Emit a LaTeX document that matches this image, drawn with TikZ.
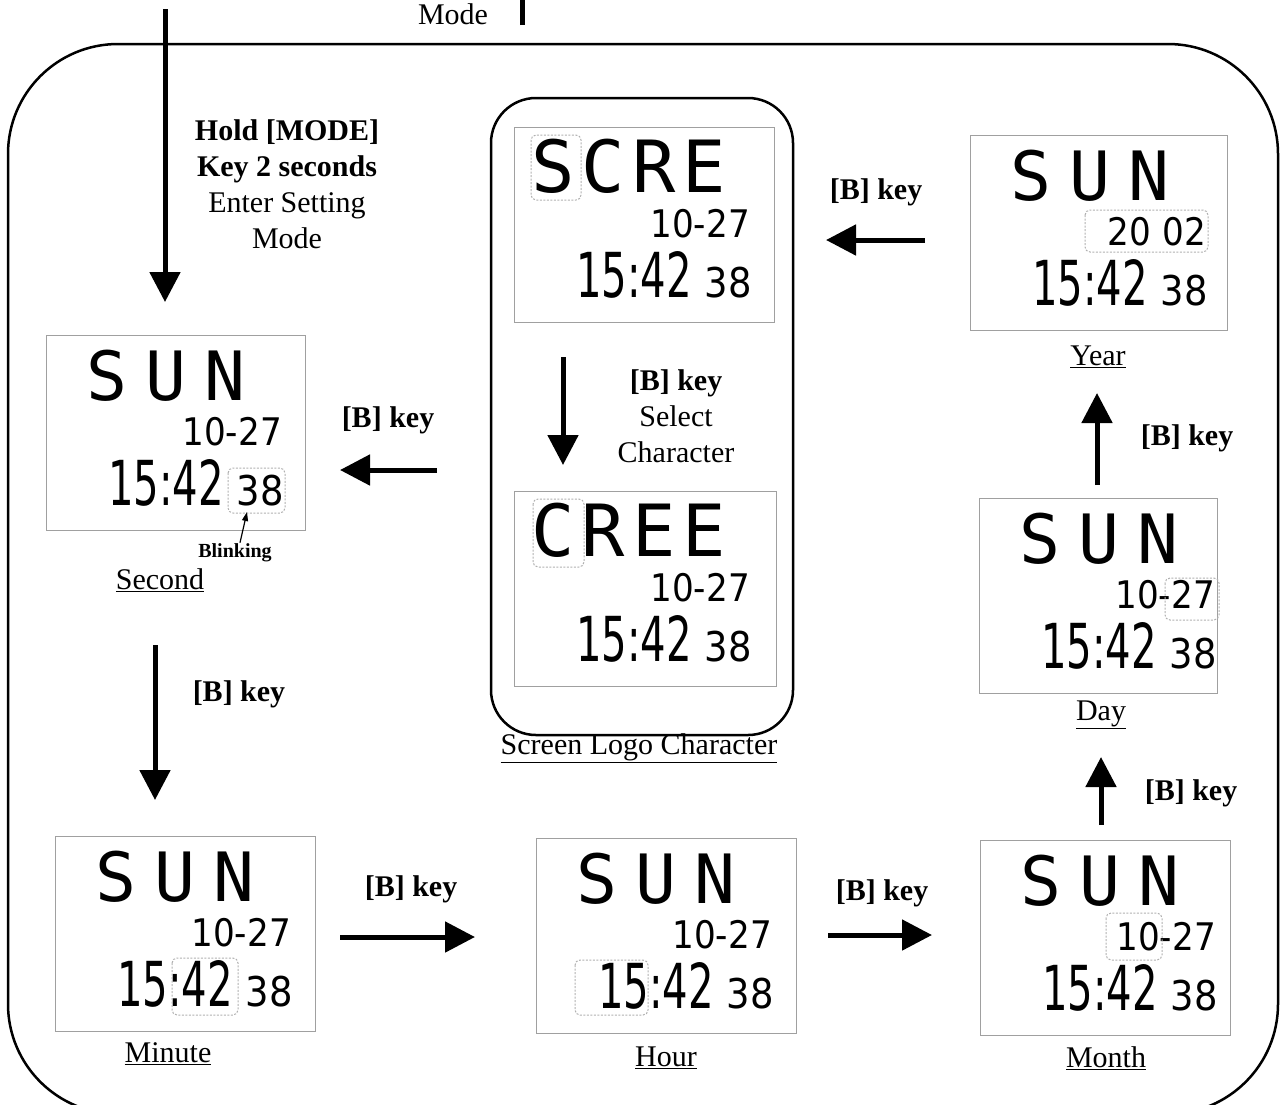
\documentclass[tikz,border=0pt]{standalone}
\usepackage{fontspec}
\setmainfont{Liberation Serif}
\newfontfamily\dotfont[LetterSpace=27]{DejaVu Sans Mono}
\newfontfamily\logofont[LetterSpace=10]{DejaVu Sans Mono}
\newfontfamily\segfont{DejaVu Sans Condensed}
\usepackage{graphicx}
\usetikzlibrary{positioning, arrows.meta, calc}
\definecolor{lcdgray}{HTML}{A0A0A0}
\definecolor{blinkgray}{HTML}{B0B0B0}

% one LCD screen: name, corner, width, word style, word, date
\newcommand{\lcdscreen}[6]{%
  \node[screen, minimum width=#3pt] (#1) at (#2) {};
  \begin{scope}[shift={(#1.north west)}]
    \node[#4] (#1w) at (40,65) {#5};
    \node[segsmall] (#1d) at (236,110) {#6};
    \node[segbig] (#1t) at (62,170) {\scalebox{0.72}[1]{15:42}};
    \node[segmid] (#1s) at (238,170) {38};
  \end{scope}}
\newcommand{\blinkbox}[3]{\draw[blink] ([shift={(#2)}]#1.north west) rectangle ([shift={(#3)}]#1.north west);}

\begin{document}
\begin{tikzpicture}[x=1pt, y=-1pt, every node/.style={align=center}]
    \tikzset{screen/.style={draw=lcdgray, line width=1.3pt, anchor=north west, minimum height=195pt, inner sep=0pt},
      dotword/.style={anchor=base west, inner sep=0pt, font=\dotfont\fontsize{68}{68}\selectfont},
      logoword/.style={dotword, xshift=-23pt, font=\logofont\fontsize{72}{72}\selectfont},
      segsmall/.style={anchor=base east, inner sep=0pt, font=\segfont\fontsize{38}{38}\selectfont},
      segbig/.style={anchor=base west, inner sep=0pt, font=\segfont\fontsize{62}{62}\selectfont},
      segmid/.style={anchor=base east, inner sep=0pt, font=\segfont\fontsize{41}{41}\selectfont},
      blink/.style={draw=blinkgray, line width=1pt, dash pattern=on 2pt off 1.5pt, rounded corners=5pt},
      txt/.style={font=\fontsize{30}{36}\selectfont},
      keytxt/.style={font=\fontsize{30}{36}\selectfont\bfseries},
      arrow/.style={-{Triangle[length=30pt,width=30pt]}, line width=5pt}}
    \useasboundingbox (0,0) rectangle (1281,1104);
    % frames
    \draw[line width=2.5pt, rounded corners=110pt] (8,44) rectangle (1278,1114);
    \draw[line width=2.5pt, rounded corners=45pt] (491,98) rectangle (793,735);
    % screens
    \lcdscreen{sec}{46,335}{259}{dotword}{SUN}{10-27}
    \lcdscreen{logo}{514,127}{260}{logoword}{SCRE}{10-27}
    \lcdscreen{cree}{514,491}{262}{logoword}{CREE}{10-27}
    \lcdscreen{year}{970,135}{257}{dotword}{SUN}{20 02}
    \lcdscreen{day}{979,498}{238}{dotword}{SUN}{10-27}
    \lcdscreen{month}{980,840}{250}{dotword}{SUN}{10-27}
    \lcdscreen{hour}{536,838}{260}{dotword}{SUN}{10-27}
    \lcdscreen{minute}{55,836}{260}{dotword}{SUN}{10-27}
    \blinkbox{sec}{182,133}{239,178}
    \blinkbox{logo}{17,8}{67,73}
    \blinkbox{cree}{19,8}{70,76}
    \blinkbox{year}{115,75}{238,117}
    \blinkbox{day}{186,80}{240,122}
    \blinkbox{month}{126,73}{182,120}
    \blinkbox{hour}{39,122}{112,177}
    \blinkbox{minute}{117,122}{183,179}
    % screen names
    \node[txt] (secname) at (160,580) {\underline{Second}};
    \node[txt] (logoname) at (639,748) {\underline{Screen Logo Character}};
    \node[txt] (yearname) at (1098,357) {\underline{Year}};
    \node[txt] (dayname) at (1101,715) {\underline{Day}};
    \node[txt] (monthname) at (1106,1058) {\underline{Month}};
    \node[txt] (hourname) at (666,1058) {\underline{Hour}};
    \node[txt] (minutename) at (168,1054) {\underline{Minute}};
    \node[inner sep=1pt, font=\fontsize{20}{20}\selectfont\bfseries] (blinklbl) at (235,553) {Blinking};
    \coordinate (blinkto) at (247,512);
    \draw[-{Triangle[length=9pt,width=6pt]}, line width=1.2pt] ([xshift=5pt]blinklbl.north) -- (blinkto);
    % key texts
    \node[txt] (holdtxt) at (287,184) {\textbf{Hold [MODE]}\\\textbf{Key 2 seconds}\\Enter Setting\\Mode};
    \node[txt] (modetop) at (453,24) [anchor=base] {Mode};
    \node[txt] (seltxt) at (676,416) {\textbf{[B] key}\\Select\\Character};
    \node[keytxt] (k1) at (388,420) {[B] key};
    \node[keytxt] (k2) at (876,192) {[B] key};
    \node[keytxt] (k3) at (1187,438) {[B] key};
    \node[keytxt] (k4) at (1191,793) {[B] key};
    \node[keytxt] (k5) at (882,893) {[B] key};
    \node[keytxt] (k6) at (411,889) {[B] key};
    \node[keytxt] (k7) at (239,694) {[B] key};
    % arrows
    \coordinate (inS) at (165,9);     \coordinate (inE) at (165,302);
    \coordinate (outS) at (522,25);   \coordinate (outE) at (522,-10);
    \coordinate (lsS) at (437,470);   \coordinate (lsE) at (340,470);
    \coordinate (lcS) at (563,357);   \coordinate (lcE) at (563,465);
    \coordinate (ylS) at (925,240);   \coordinate (ylE) at (826,240);
    \coordinate (dyS) at (1097,485);  \coordinate (dyE) at (1097,393);
    \coordinate (mdS) at (1101,825);  \coordinate (mdE) at (1101,757);
    \coordinate (hmS) at (828,935);   \coordinate (hmE) at (932,935);
    \coordinate (mhS) at (340,937);   \coordinate (mhE) at (475,937);
    \coordinate (smS) at (155,645);   \coordinate (smE) at (155,800);
    \foreach \s/\e in {inS/inE, lsS/lsE, lcS/lcE, ylS/ylE, dyS/dyE, mdS/mdE, hmS/hmE, mhS/mhE, smS/smE}
      \draw[arrow] (\s) -- (\e);
    \draw[line width=5pt] (outS) -- (outE);
\end{tikzpicture}
\end{document}
